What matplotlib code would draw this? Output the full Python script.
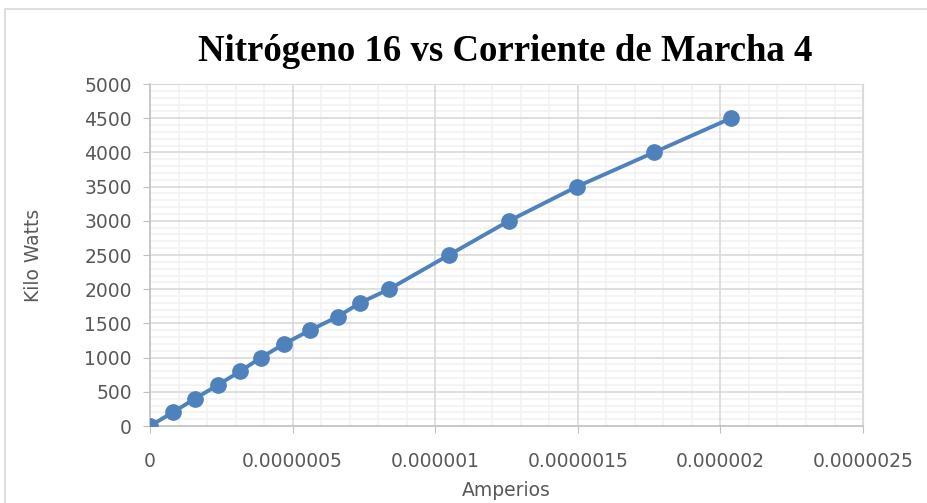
import matplotlib.pyplot as plt
from matplotlib.ticker import MultipleLocator
from matplotlib.patches import Rectangle

# Data
amperios = [0, 8.0e-8, 1.58e-7, 2.38e-7, 3.16e-7, 3.89e-7, 4.70e-7, 5.61e-7,
            6.59e-7, 7.36e-7, 8.38e-7, 1.048e-6, 1.259e-6, 1.497e-6,
            1.767e-6, 2.037e-6]
kilo_watts = [0, 200, 400, 600, 800, 1000, 1200, 1400, 1600, 1800, 2000,
              2500, 3000, 3500, 4000, 4500]
x_ticks = [0, 0.0000005, 0.000001, 0.0000015, 0.000002, 0.0000025]
x_tick_labels = ['0', '0.0000005', '0.000001', '0.0000015', '0.000002', '0.0000025']
y_ticks = list(range(0, 5001, 500))

fig = plt.figure(figsize=(9.27, 5.03), dpi=100)
ax = fig.add_axes([0.1618, 0.153, 0.7692, 0.680])

# chart area border (Excel style)
fig.patches.append(Rectangle((0.005, -0.05), 1.2, 1.032, transform=fig.transFigure,
                             fill=False, edgecolor='#D9D9D9', linewidth=1.2))

ax.plot(amperios, kilo_watts, color='#4F81BD', linewidth=2.8,
        marker='o', markersize=11, zorder=3)

ax.set_xlim(0, 0.0000025)
ax.set_ylim(0, 5000)
ax.set_xticks(x_ticks)
ax.set_xticklabels(x_tick_labels)
ax.set_yticks(y_ticks)
ax.xaxis.set_minor_locator(MultipleLocator(0.0000001))
ax.yaxis.set_minor_locator(MultipleLocator(100))

# minor grid from the axis, major grid drawn on top so it stays continuous
ax.grid(which='minor', color='#F2F2F2', linewidth=1.2)
ax.grid(which='major', visible=False)
ax.set_axisbelow(True)
for xv in x_ticks[1:]:
    ax.axvline(xv, color='#D9D9D9', linewidth=1.2, zorder=1)
for yv in y_ticks[1:]:
    ax.axhline(yv, color='#D9D9D9', linewidth=1.2, zorder=1)

for side in ['top', 'right']:
    ax.spines[side].set_color('#D9D9D9')
for side in ['left', 'bottom']:
    ax.spines[side].set_color('#BFBFBF')
    ax.spines[side].set_linewidth(1.2)

ax.tick_params(which='major', direction='out', length=5, color='#BFBFBF',
               labelsize=13.5, labelcolor='#595959', pad=8)
ax.tick_params(axis='x', which='major', pad=14)
ax.tick_params(which='minor', length=0)

ax.set_xlabel('Amperios', fontsize=13.5, color='#595959', labelpad=7)
ax.set_ylabel('Kilo Watts', fontsize=13.5, color='#595959', labelpad=30)

fig.text(0.545, 0.897, 'Nitrógeno 16 vs Corriente de Marcha 4',
         family='Liberation Serif', fontweight='bold', fontsize=26.5,
         ha='center', va='center')

plt.savefig('out.png', dpi=100)
